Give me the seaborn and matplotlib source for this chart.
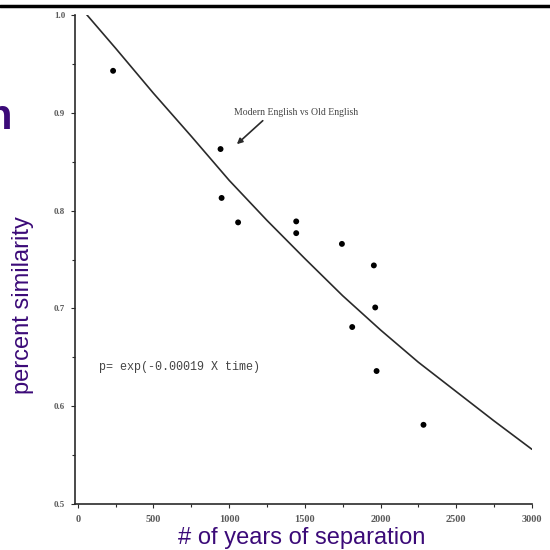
import matplotlib
matplotlib.use("Agg")
import matplotlib.pyplot as plt
import numpy as np
import pandas as pd
import seaborn as sns

# ── Data ──────────────────────────────────────────
years = [233, 943, 950, 1059, 1443, 1443, 1745, 1956, 1965, 1813, 1974, 2284]
similarity = [0.943, 0.863, 0.813, 0.788, 0.789, 0.777, 0.766, 0.744, 0.701, 0.681, 0.636, 0.581]

# fitted curve p = exp(-0.00019 x time)
fit_years = [50, 250, 500, 750, 1000, 1250, 1500, 1750, 2000, 2250, 2500, 2750, 3000]
fit_similarity = [1.002, 0.966, 0.920, 0.876, 0.831, 0.790, 0.751, 0.713, 0.678, 0.645,
                  0.615, 0.585, 0.556]

x_ticks = [0, 500, 1000, 1500, 2000, 2500, 3000]
x_labels = ["0", "500", "1000", "1500", "2000", "2500", "3000"]
y_ticks = [0.5, 0.6, 0.7, 0.8, 0.9, 1.0]
y_labels = ["0.5", "0.6", "0.7", "0.8", "0.9", "1.0"]

PURPLE = "#3b0a78"
INK = "#2a2a2a"

sns.set_theme(style="ticks")
plt.rcParams["font.family"] = ["Liberation Sans", "DejaVu Sans"]

points = pd.DataFrame({"years": years, "similarity": similarity})
fit = pd.DataFrame({"years": fit_years, "similarity": fit_similarity})

fig = plt.figure(figsize=(5.5, 5.5), dpi=100)
ax = fig.add_axes([0.136, 0.0836, 0.831, 0.889])

sns.lineplot(data=fit, x="years", y="similarity", ax=ax, color=INK, lw=1.2)
sns.scatterplot(data=points, x="years", y="similarity", ax=ax, color="black",
                s=18, edgecolor="none")

ax.set_xlim(-20, 3000)
ax.set_ylim(0.5, 1.0)
ax.set_xticks(x_ticks)
ax.set_xticklabels(x_labels)
ax.set_yticks(y_ticks)
ax.set_yticklabels(y_labels)
ax.set_xticks(np.arange(250, 3000, 500), minor=True)
ax.set_yticks([0.55, 0.65, 0.75, 0.85, 0.95], minor=True)
ax.tick_params(axis="both", which="major", length=3, width=0.8, color=INK,
               labelcolor="#5a5a5a")
ax.tick_params(axis="x", which="major", labelsize=7.5, pad=5)
ax.tick_params(axis="y", which="major", labelsize=6.5, pad=4)
ax.tick_params(axis="both", which="minor", length=2, width=0.8, color=INK)
for lab in ax.get_xticklabels() + ax.get_yticklabels():
    lab.set_family("Liberation Serif")
    lab.set_fontweight("bold")

sns.despine(ax=ax)
for side in ["left", "bottom"]:
    ax.spines[side].set_color(INK)
    ax.spines[side].set_linewidth(1.2)

ax.set_xlabel("")
ax.set_ylabel("")

# annotations from the original scan
ax.text(1441, 0.9, "Modern English vs Old English", fontsize=7, family="Liberation Serif",
        color="#444444", ha="center", va="center")
ax.annotate("", xy=(1051, 0.868), xytext=(1222, 0.892),
            arrowprops=dict(arrowstyle="-|>", color=INK, lw=1.2, mutation_scale=8,
                            shrinkA=0, shrinkB=0))
ax.text(140, 0.64, "p= exp(-0.00019 X time)", fontsize=8.5, family="Liberation Mono",
        color="#444444", va="center")

# slide labels
fig.text(0.042, 0.445, "percent similarity", rotation=90, color=PURPLE,
         fontsize=17, ha="center", va="center")
fig.text(0.549, 0.022, "# of years of separation", color=PURPLE,
         fontsize=17, ha="center", va="center")
fig.text(0.021, 0.785, "n", color=PURPLE, fontsize=30, fontweight="bold",
         ha="right", va="center")
fig.add_artist(plt.Line2D([0, 1], [0.99, 0.99], color="black", lw=2.5,
                          transform=fig.transFigure))

fig.savefig("out.png", dpi=100)
